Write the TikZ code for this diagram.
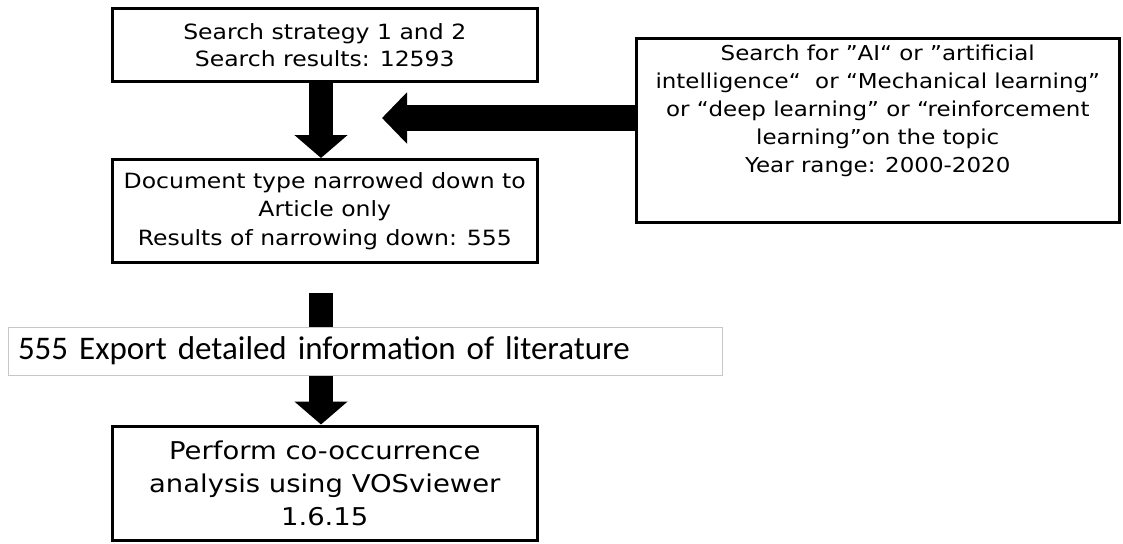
\documentclass[tikz,border=0pt]{standalone}
\usepackage{fontspec}
\setmainfont{DejaVu Sans}[FakeStretch=1.12]
\newfontfamily\barfont{Carlito}
\usetikzlibrary{arrows.meta,calc}
\begin{document}
\begin{tikzpicture}[x=1pt,y=-1pt,
  box/.style={draw=black,line width=3pt,fill=white,align=center,inner sep=0pt},
  fat/.style={line width=24pt,draw=black,-{Triangle[width=52pt,length=23pt]}},
  txt/.style={font=\fontsize{21}{26.5}\selectfont},
]
\useasboundingbox[fill=white] (0,0) rectangle (1123,543);
% boxes
\node[box,txt,minimum width=424.5pt,minimum height=72pt] (b1) at (324.75,45)
  {Search strategy 1 and 2\\Search results: 12593};
\node[box,font=\fontsize{21}{28.5}\selectfont,minimum width=424.5pt,minimum height=102.5pt] (b2) at (324.75,210.75)
  {Document type narrowed down to\\Article only\\Results of narrowing down: 555};
\node[box,minimum width=483.5pt,minimum height=183pt] (r) at (877.75,130.5) {};
\node[align=center,anchor=north,inner sep=0pt,font=\fontsize{20.5}{28}\selectfont] (rt) at ($(r.north)+(0,7)$)
  {Search for ”AI“ or ”artificial\\intelligence“\ \ or “Mechanical learning”\\or “deep learning” or “reinforcement\\learning”on the topic\\Year range: 2000-2020};
\node[box,font=\fontsize{24.5}{33}\selectfont,minimum width=424.5pt,minimum height=114pt] (b3) at (324.75,483)
  {Perform co-occurrence\\analysis using VOSviewer\\1.6.15};
% connectors
\coordinate (ax) at (321,0);
\coordinate (hit) at (382,118);
\coordinate (s) at (321,293);
\draw[fat] (b1.south -| ax) -- (b2.north -| ax);
\draw[fat,line width=26pt,-{Triangle[width=50pt,length=25pt]}] (r.west |- hit) -- (hit);
\draw[fat] (s) -- (b3.north -| ax);
% export bar (covers the arrow)
\node[draw=black!22,line width=1pt,fill=white,minimum height=48pt,text width=694pt,inner xsep=10pt,align=left,
  font=\barfont\fontsize{33}{38}\selectfont] (bar) at (365,351)
  {555 Export detailed information of literature};
\end{tikzpicture}
\end{document}
